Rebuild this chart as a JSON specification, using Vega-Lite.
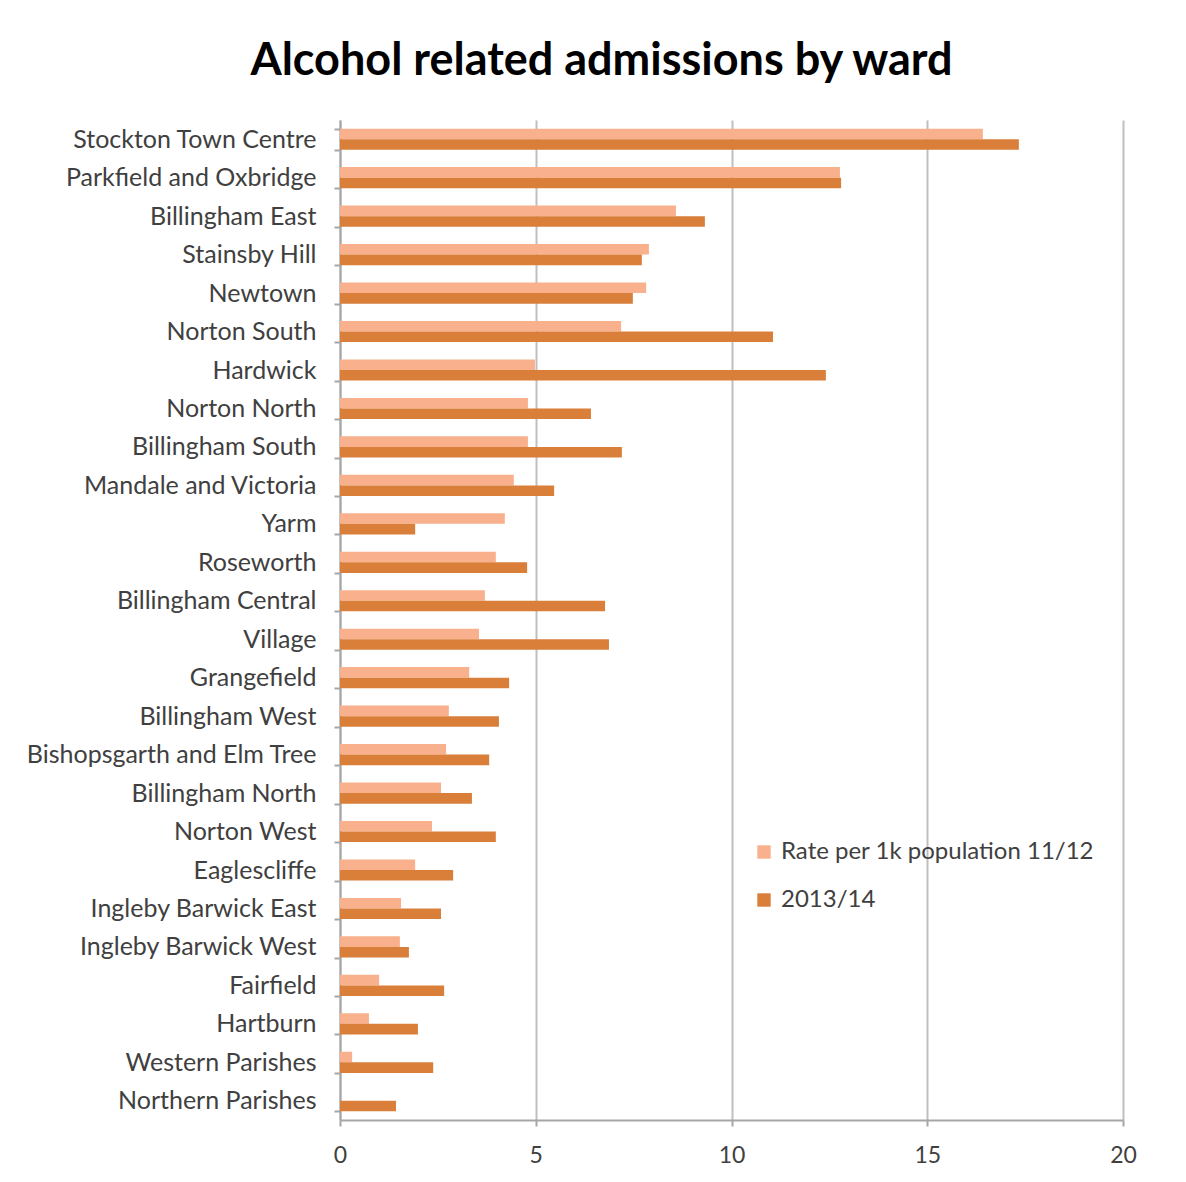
{
  "$schema": "https://vega.github.io/schema/vega-lite/v6.json",
  "width": 783,
  "height": 1000,
  "autosize": {"type": "none"},
  "padding": {"left": 340, "top": 120, "right": 63, "bottom": 62},
  "background": "white",
  "title": {
    "text": "Alcohol related admissions by ward",
    "font": "Lato",
    "fontSize": 45,
    "fontWeight": "bold",
    "color": "#000000",
    "anchor": "middle",
    "dx": -130,
    "offset": 24
  },
  "data": {
    "values": [
      {"ward": "Stockton Town Centre", "series": "Rate per 1k population 11/12", "value": 16.42},
      {"ward": "Stockton Town Centre", "series": "2013/14", "value": 17.34},
      {"ward": "Parkfield and Oxbridge", "series": "Rate per 1k population 11/12", "value": 12.77},
      {"ward": "Parkfield and Oxbridge", "series": "2013/14", "value": 12.8},
      {"ward": "Billingham East", "series": "Rate per 1k population 11/12", "value": 8.58},
      {"ward": "Billingham East", "series": "2013/14", "value": 9.32},
      {"ward": "Stainsby Hill", "series": "Rate per 1k population 11/12", "value": 7.89},
      {"ward": "Stainsby Hill", "series": "2013/14", "value": 7.71},
      {"ward": "Newtown", "series": "Rate per 1k population 11/12", "value": 7.82},
      {"ward": "Newtown", "series": "2013/14", "value": 7.48},
      {"ward": "Norton South", "series": "Rate per 1k population 11/12", "value": 7.18},
      {"ward": "Norton South", "series": "2013/14", "value": 11.06},
      {"ward": "Hardwick", "series": "Rate per 1k population 11/12", "value": 4.98},
      {"ward": "Hardwick", "series": "2013/14", "value": 12.41},
      {"ward": "Norton North", "series": "Rate per 1k population 11/12", "value": 4.8},
      {"ward": "Norton North", "series": "2013/14", "value": 6.41},
      {"ward": "Billingham South", "series": "Rate per 1k population 11/12", "value": 4.8},
      {"ward": "Billingham South", "series": "2013/14", "value": 7.2},
      {"ward": "Mandale and Victoria", "series": "Rate per 1k population 11/12", "value": 4.44},
      {"ward": "Mandale and Victoria", "series": "2013/14", "value": 5.47},
      {"ward": "Yarm", "series": "Rate per 1k population 11/12", "value": 4.21},
      {"ward": "Yarm", "series": "2013/14", "value": 1.92},
      {"ward": "Roseworth", "series": "Rate per 1k population 11/12", "value": 3.98},
      {"ward": "Roseworth", "series": "2013/14", "value": 4.78},
      {"ward": "Billingham Central", "series": "Rate per 1k population 11/12", "value": 3.7},
      {"ward": "Billingham Central", "series": "2013/14", "value": 6.77},
      {"ward": "Village", "series": "Rate per 1k population 11/12", "value": 3.55},
      {"ward": "Village", "series": "2013/14", "value": 6.87},
      {"ward": "Grangefield", "series": "Rate per 1k population 11/12", "value": 3.3},
      {"ward": "Grangefield", "series": "2013/14", "value": 4.32},
      {"ward": "Billingham West", "series": "Rate per 1k population 11/12", "value": 2.78},
      {"ward": "Billingham West", "series": "2013/14", "value": 4.06},
      {"ward": "Bishopsgarth and Elm Tree", "series": "Rate per 1k population 11/12", "value": 2.71},
      {"ward": "Bishopsgarth and Elm Tree", "series": "2013/14", "value": 3.81},
      {"ward": "Billingham North", "series": "Rate per 1k population 11/12", "value": 2.58},
      {"ward": "Billingham North", "series": "2013/14", "value": 3.37},
      {"ward": "Norton West", "series": "Rate per 1k population 11/12", "value": 2.35},
      {"ward": "Norton West", "series": "2013/14", "value": 3.98},
      {"ward": "Eaglescliffe", "series": "Rate per 1k population 11/12", "value": 1.92},
      {"ward": "Eaglescliffe", "series": "2013/14", "value": 2.89},
      {"ward": "Ingleby Barwick East", "series": "Rate per 1k population 11/12", "value": 1.56},
      {"ward": "Ingleby Barwick East", "series": "2013/14", "value": 2.58},
      {"ward": "Ingleby Barwick West", "series": "Rate per 1k population 11/12", "value": 1.53},
      {"ward": "Ingleby Barwick West", "series": "2013/14", "value": 1.76},
      {"ward": "Fairfield", "series": "Rate per 1k population 11/12", "value": 1.0},
      {"ward": "Fairfield", "series": "2013/14", "value": 2.66},
      {"ward": "Hartburn", "series": "Rate per 1k population 11/12", "value": 0.74},
      {"ward": "Hartburn", "series": "2013/14", "value": 1.99},
      {"ward": "Western Parishes", "series": "Rate per 1k population 11/12", "value": 0.31},
      {"ward": "Western Parishes", "series": "2013/14", "value": 2.38},
      {"ward": "Northern Parishes", "series": "Rate per 1k population 11/12", "value": 0},
      {"ward": "Northern Parishes", "series": "2013/14", "value": 1.43}
    ]
  },
  "mark": {"type": "bar"},
  "encoding": {
    "y": {
      "field": "ward",
      "type": "nominal",
      "sort": null,
      "scale": {"paddingInner": 0.45, "paddingOuter": 0.225},
      "axis": {
        "title": null,
        "labelFont": "Lato",
        "labelFontSize": 25,
        "labelColor": "#404040",
        "labelPadding": 18,
        "labelLimit": 0,
        "tickSize": 6,
        "tickBand": "extent",
        "tickColor": "#A6A6A6",
        "domainColor": "#A6A6A6",
        "domainWidth": 2,
        "tickWidth": 2,
        "grid": false
      }
    },
    "yOffset": {
      "field": "series",
      "type": "nominal",
      "sort": ["Rate per 1k population 11/12", "2013/14"]
    },
    "x": {
      "field": "value",
      "type": "quantitative",
      "scale": {"domain": [0, 20], "nice": false},
      "axis": {
        "title": null,
        "values": [0, 5, 10, 15, 20],
        "labelFont": "Lato",
        "labelFontSize": 23,
        "labelColor": "#404040",
        "labelPadding": 18,
        "labelFlush": false,
        "tickSize": 6,
        "tickColor": "#A6A6A6",
        "tickWidth": 2,
        "domainColor": "#A6A6A6",
        "domainWidth": 2,
        "grid": true,
        "gridColor": "#BFBFBF",
        "gridWidth": 2
      }
    },
    "color": {
      "field": "series",
      "type": "nominal",
      "sort": ["Rate per 1k population 11/12", "2013/14"],
      "scale": {
        "domain": ["Rate per 1k population 11/12", "2013/14"],
        "range": ["#F8B18C", "#D97F3A"]
      },
      "legend": {
        "title": null,
        "orient": "none",
        "legendX": 412,
        "legendY": 720,
        "symbolType": "square",
        "symbolSize": 180,
        "symbolStrokeWidth": 0,
        "labelFont": "Lato",
        "labelFontSize": 24,
        "labelColor": "#404040",
        "labelLimit": 0,
        "rowPadding": 24,
        "labelOffset": 5
      }
    }
  },
  "config": {
    "view": {"stroke": null}
  }
}
